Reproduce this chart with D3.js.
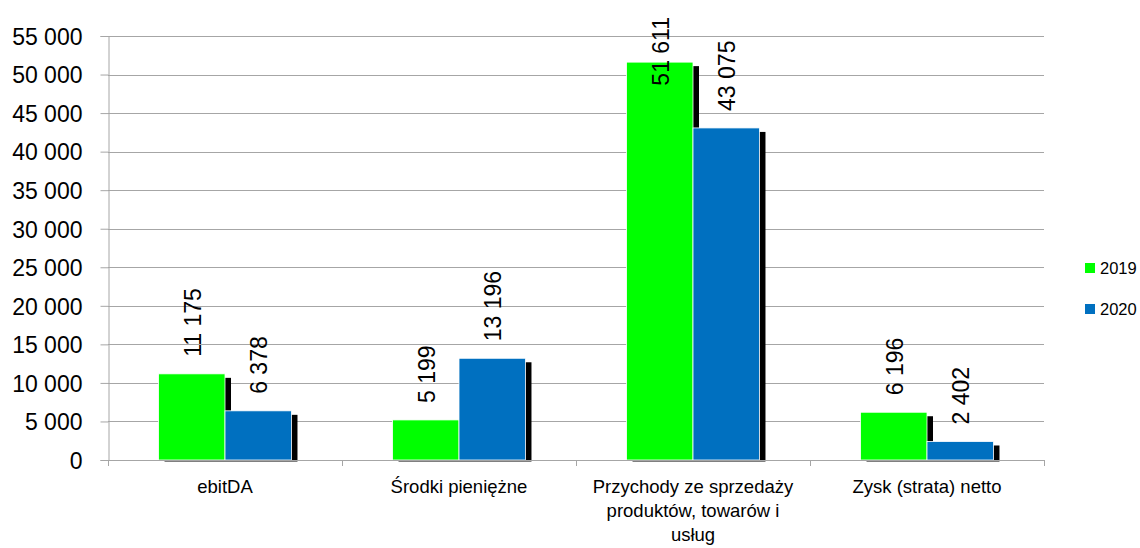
<!DOCTYPE html>
<html><head><meta charset="utf-8">
<script src="https://cdn.jsdelivr.net/npm/d3@7"></script>
<style>
html,body{margin:0;padding:0;background:#fff;}
svg{display:block;font-family:"Liberation Sans",Arial,sans-serif;}
</style></head>
<body>
<svg id="chart" width="1140" height="548"></svg>
<script>
const categories = ["ebitDA", "Środki pieniężne", "Przychody ze sprzedaży produktów, towarów i usług", "Zysk (strata) netto"];
const seriesNames = ["2019", "2020"];
const values2019 = [11175, 5199, 51611, 6196];
const values2020 = [6378, 13196, 43075, 2402];
const yTicks = [0, 5000, 10000, 15000, 20000, 25000, 30000, 35000, 40000, 45000, 50000, 55000];
const colors = ["#00ff00", "#0070c0"];

(function () {
const svg = d3.select("#chart");
const pLeft = 108, pRight = 1044, pTop = 36, pBottom = 460;
const y = d3.scaleLinear().domain([0, 55000]).range([pBottom, pTop]);
const x0 = d3.scaleBand().domain(categories).range([pLeft, pRight]).padding(0);
const x1 = d3.scaleBand().domain(seriesNames).range([0, x0.bandwidth()]).paddingInner(0).paddingOuter(0.76);
const fmt = v => d3.format(",")(v).replace(/,/g, " ");
const gridColor = "#a6a6a6";

// gridlines
svg.append("g").selectAll("line").data(yTicks.filter(t => t > 0)).join("line")
  .attr("x1", pLeft).attr("x2", pRight)
  .attr("y1", d => Math.round(y(d)) + 0.5).attr("y2", d => Math.round(y(d)) + 0.5)
  .attr("stroke", gridColor).attr("stroke-width", 1);

// y axis
const yAxis = svg.append("g").attr("transform", `translate(${pLeft + 0.5},0)`)
  .call(d3.axisLeft(y).tickValues(yTicks).tickFormat(fmt).tickSize(8).tickPadding(18));
yAxis.select(".domain").attr("stroke", gridColor);
yAxis.selectAll(".tick line").attr("stroke", gridColor);
yAxis.selectAll(".tick text").attr("font-size", 23).attr("fill", "#000")
  .attr("font-family", "Liberation Sans, Arial, sans-serif").attr("dy", "0.36em");

const flat = [];
seriesNames.forEach((s, i) => {
  const vals = i === 0 ? values2019 : values2020;
  vals.forEach((v, k) => flat.push({ s, i, cat: categories[k], v }));
});

// shadows
svg.append("clipPath").attr("id", "shadowClip").append("rect")
  .attr("x", 0).attr("y", 0).attr("width", 1140).attr("height", pBottom + 1.5);
svg.append("g").attr("clip-path", "url(#shadowClip)").selectAll("rect").data(flat).join("rect")
  .attr("x", d => x0(d.cat) + x1(d.s) + 6)
  .attr("y", d => y(d.v) + 4)
  .attr("width", x1.bandwidth())
  .attr("height", d => pBottom - y(d.v))
  .attr("fill", "#000");

// bars
svg.append("g").selectAll("rect").data(flat).join("rect")
  .attr("x", d => x0(d.cat) + x1(d.s))
  .attr("y", d => y(d.v))
  .attr("width", x1.bandwidth())
  .attr("height", d => pBottom - y(d.v))
  .attr("fill", d => colors[d.i])
  .attr("stroke", "#fff").attr("stroke-width", 0.8);

// x axis
const xAxisG = svg.append("g");
xAxisG.append("line").attr("x1", pLeft).attr("x2", pRight).attr("y1", pBottom + 0.5).attr("y2", pBottom + 0.5)
  .attr("stroke", gridColor);
const bounds = categories.map(c => x0(c)).concat([pRight]);
xAxisG.selectAll("line.tk").data(bounds).join("line").attr("class", "tk")
  .attr("x1", d => Math.round(d) + 0.5).attr("x2", d => Math.round(d) + 0.5).attr("y1", pBottom).attr("y2", pBottom + 6)
  .attr("stroke", gridColor);

// category labels with wrap
function wrapWords(text, maxW, size) {
  const tmp = svg.append("text").attr("font-size", size);
  const words = text.split(" ");
  const lines = [];
  let cur = "";
  words.forEach(w => {
    const test = cur ? cur + " " + w : w;
    tmp.text(test);
    if (tmp.node().getComputedTextLength() > maxW && cur) { lines.push(cur); cur = w; }
    else cur = test;
  });
  if (cur) lines.push(cur);
  tmp.remove();
  return lines;
}
categories.forEach(c => {
  const lines = wrapWords(c, 215, 18.5);
  const t = svg.append("text").attr("text-anchor", "middle").attr("font-size", 18.5).attr("fill", "#000");
  lines.forEach((ln, k) => {
    t.append("tspan").attr("x", x0(c) + x0.bandwidth() / 2).attr("y", 493 + k * 24).text(ln);
  });
});

// data labels
svg.append("g").selectAll("text").data(flat).join("text")
  .attr("font-size", 23).attr("fill", "#000")
  .attr("dominant-baseline", "central")
  .text(d => fmt(d.v))
  .each(function (d) {
    const len = this.getComputedTextLength();
    const cx = x0(d.cat) + x1(d.s) + x1.bandwidth() / 2 + 1;
    let startY = y(d.v) - 17;
    if (startY - len < 17) startY = 17 + len;
    d3.select(this).attr("transform", `translate(${cx},${startY}) rotate(-90)`);
  });

// legend
const leg = svg.append("g");
seriesNames.forEach((s, i) => {
  const cy = 268 + i * 41;
  leg.append("rect").attr("x", 1085).attr("y", cy - 5).attr("width", 10).attr("height", 10).attr("fill", colors[i]);
  leg.append("text").attr("x", 1100).attr("y", cy).attr("dominant-baseline", "central")
    .attr("font-size", 16.5).attr("fill", "#000").text(s);
});
})();
</script>
</body></html>
